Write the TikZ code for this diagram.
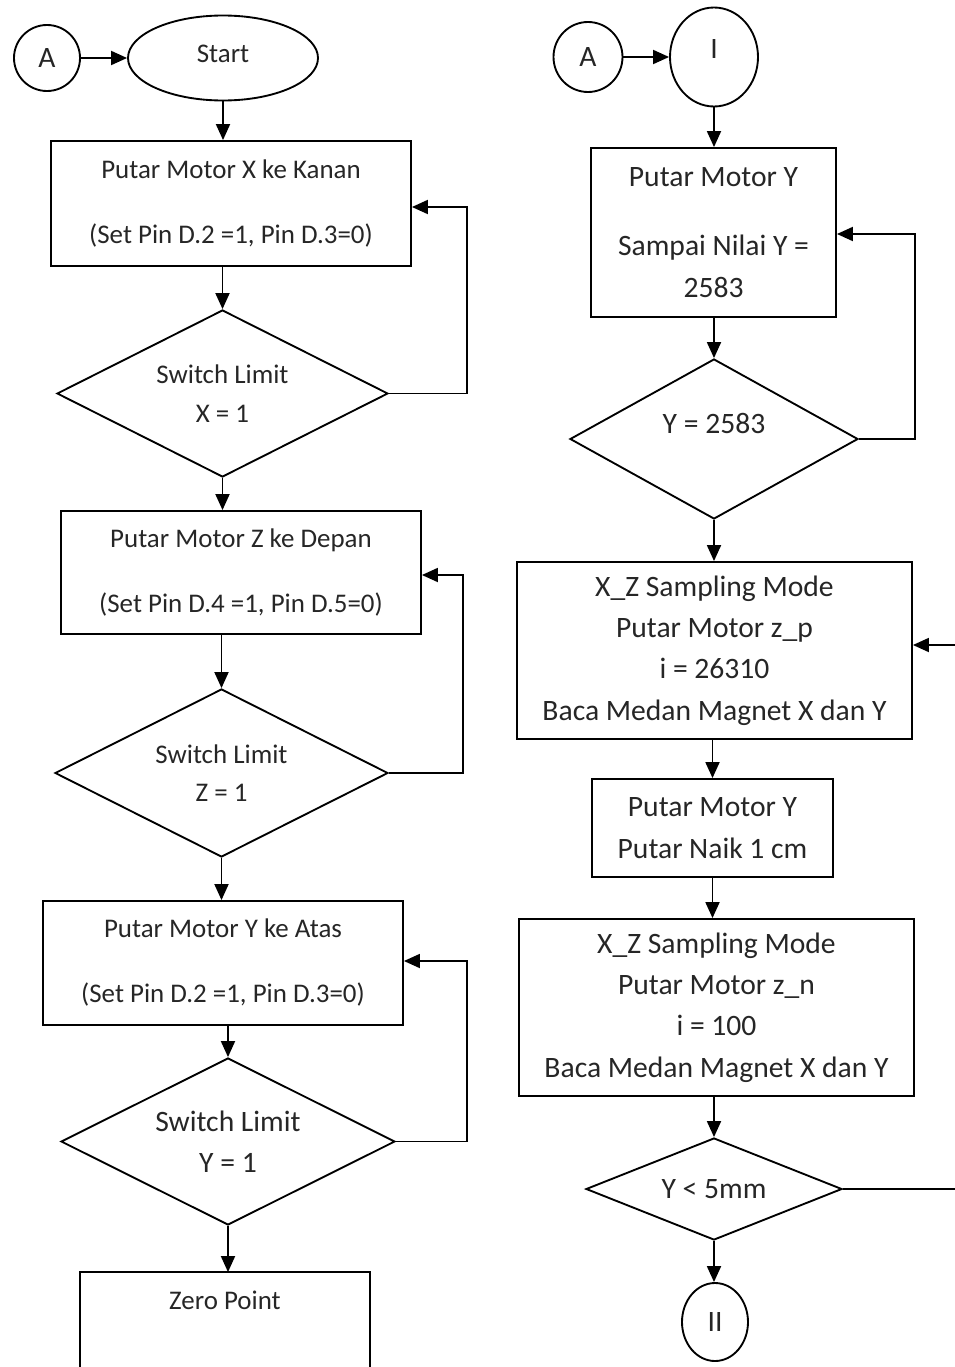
\documentclass[tikz,border=0pt]{standalone}
\usepackage{fontspec}
\setmainfont{Carlito}
\usetikzlibrary{shapes.geometric,arrows.meta}

\newcommand{\hurufkecil}{\fontsize{20.2}{29}\selectfont}
\newcommand{\hurufbesar}{\fontsize{22.2}{31}\selectfont}

\tikzset{every picture/.style={line width=1.4pt}}
\tikzset{
    ukuran/.style 2 args={minimum width=#1*0.75pt, minimum height=#2*0.75pt},
    kotak/.style={draw, rectangle, inner sep=0pt, align=center, text=black!85},
    cabang/.style={draw, diamond, shape aspect=2, inner sep=0pt, align=center, text=black!85},
    konektor/.style={draw, ellipse, inner sep=0pt, align=center, text=black!85},
    panah/.style={-{Triangle[length=12pt,width=10.5pt]}},
}

\begin{document}
\begin{tikzpicture}[x=0.75pt,y=0.75pt,yscale=-1,xscale=1]
    \useasboundingbox (0,0) rectangle (955,1367);

    %Shape: Circle [A kiri]
    \node [konektor, ukuran={66}{66}, font=\hurufbesar] (A1) at (47,58) {A};
    %Shape: Ellipse [Start]
    \node [konektor, ukuran={190}{85}, font=\hurufkecil] (start) at (223,58) {Start\\[-22pt]\mbox{}};

    %Shape: Rectangle [motor X]
    \node [kotak, ukuran={360}{125}, font=\hurufkecil] (motorX) at (231,203.5) {Putar Motor X ke Kanan\\[19.75pt](Set Pin D.2 =1, Pin D.3=0)};
    %Shape: Diamond [limit X]
    \node [cabang, ukuran={331}{167}, font=\hurufkecil] (limitX) at (222.5,393.5) {Switch Limit\\X = 1};

    %Shape: Rectangle [motor Z]
    \node [kotak, ukuran={360}{123}, font=\hurufkecil] (motorZ) at (241,572.5) {Putar Motor Z ke Depan\\[19.75pt](Set Pin D.4 =1, Pin D.5=0)};
    %Shape: Diamond [limit Z]
    \node [cabang, ukuran={333}{168}, font=\hurufkecil] (limitZ) at (221.5,773) {Switch Limit\\Z = 1};

    %Shape: Rectangle [motor Y atas]
    \node [kotak, ukuran={360}{124}, font=\hurufkecil] (motorYa) at (223,963) {Putar Motor Y ke Atas\\[19.75pt](Set Pin D.2 =1, Pin D.3=0)};
    %Shape: Diamond [limit Y]
    \node [cabang, ukuran={334}{167}, font=\hurufbesar] (limitY) at (228,1141.5) {Switch Limit\\Y = 1};

    %Shape: Rectangle, terbuka di bawah [zero point]
    \node [ukuran={288}{94}, inner sep=0pt, align=center, text=black!85, font=\hurufkecil] (zero) at (225,1320) {Zero Point\\[0pt]\mbox{}};
    \draw (zero.south west) |- (zero.north east) -- (zero.south east);

    %Shape: Circle [A kanan]
    \node [konektor, ukuran={69}{70}, font=\hurufbesar] (A2) at (588,57) {A};
    %Shape: Ellipse [I]
    \node [konektor, ukuran={88}{99}, font=\hurufbesar] (satu) at (714,57) {I\\[-19pt]\mbox{}};

    %Shape: Rectangle [motor Y sampai]
    \node [kotak, ukuran={245}{169}, font=\hurufbesar] (motorY) at (713.5,232.5) {Putar Motor Y\\[20.75pt]Sampai Nilai Y =\\2583};
    %Shape: Diamond [Y = 2583]
    \node [cabang, ukuran={288}{160}, font=\hurufbesar] (cekY) at (714,439) {Y = 2583\\[-8pt]\mbox{}};

    %Shape: Rectangle [sampling z_p]
    \node [kotak, ukuran={395}{177}, font=\hurufbesar] (samplingP) at (714.5,650.5) {X\_Z Sampling Mode\\Putar Motor z\_p\\i = 26310\\Baca Medan Magnet X dan Y};
    %Shape: Rectangle [naik]
    \node [kotak, ukuran={241}{98}, font=\hurufbesar] (naik) at (712.5,828) {Putar Motor Y\\Putar Naik 1 cm};
    %Shape: Rectangle [sampling z_n]
    \node [kotak, ukuran={395}{177}, font=\hurufbesar] (samplingN) at (716.5,1007.5) {X\_Z Sampling Mode\\Putar Motor z\_n\\i = 100\\Baca Medan Magnet X dan Y};
    %Shape: Diamond [Y < 5mm]
    \node [cabang, ukuran={256}{102}, font=\hurufbesar] (cekLima) at (714,1189) {Y < 5mm};
    %Shape: Ellipse [II]
    \node [konektor, ukuran={66}{78}, font=\hurufbesar] (dua) at (715,1322) {II};

    %Loop points
    \coordinate (balikX) at (467,207);
    \coordinate (balikZ) at (463,575);
    \coordinate (balikYa) at (467,961);
    \coordinate (balikY) at (915,234);
    \coordinate (masuk) at (955,645);
    \coordinate (keluar) at (955,1189);

    %Straight Lines kiri
    \draw [panah] (A1) -- (start);
    \draw [panah] (start.south) -- (start.south |- motorX.north);
    \draw [panah] (limitX.north |- motorX.south) -- (limitX.north);
    \draw [panah] (limitX.east) -| (balikX) -- (balikX -| motorX.east);
    \draw [panah] (limitX.south) -- (limitX.south |- motorZ.north);
    \draw [panah] (limitZ.north |- motorZ.south) -- (limitZ.north);
    \draw [panah] (limitZ.east) -| (balikZ) -- (balikZ -| motorZ.east);
    \draw [panah] (limitZ.south) -- (limitZ.south |- motorYa.north);
    \draw [panah] (limitY.north |- motorYa.south) -- (limitY.north);
    \draw [panah] (limitY.east) -| (balikYa) -- (balikYa -| motorYa.east);
    \draw [panah] (limitY.south) -- (limitY.south |- zero.north);

    %Straight Lines kanan
    \draw [panah] (A2) -- (satu);
    \draw [panah] (satu.south) -- (satu.south |- motorY.north);
    \draw [panah] (cekY.north |- motorY.south) -- (cekY.north);
    \draw [panah] (cekY.east) -| (balikY) -- (balikY -| motorY.east);
    \draw [panah] (cekY.south) -- (cekY.south |- samplingP.north);
    \draw [panah] (masuk) -- (masuk -| samplingP.east);
    \draw [panah] (samplingP.south -| naik.north) -- (naik.north);
    \draw [panah] (naik.south) -- (naik.south |- samplingN.north);
    \draw [panah] (cekLima.north |- samplingN.south) -- (cekLima.north);
    \draw (cekLima.east) -- (keluar);
    \draw [panah] (cekLima.south) -- (cekLima.south |- dua.north);

\end{tikzpicture}
\end{document}
